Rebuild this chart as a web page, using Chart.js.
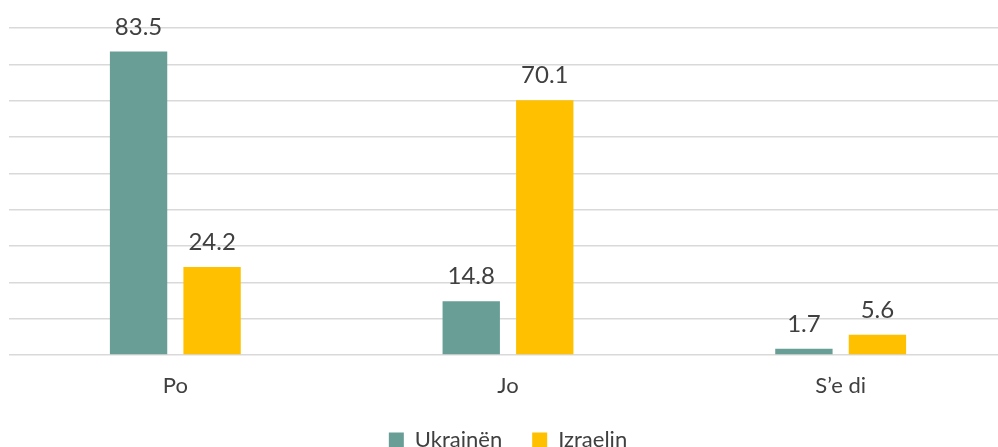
<!DOCTYPE html>
<html>
<head>
<meta charset="utf-8">
<script src="https://cdn.jsdelivr.net/npm/chart.js@4"></script>
<style>
  html, body { margin: 0; padding: 0; background: #fff; overflow: hidden; }
  /* un poco más ancho que la ventana: el área del gráfico sigue fuera del borde derecho */
  #wrap { width: 1007px; height: 447px; }
</style>
</head>
<body>
<div id="wrap"><canvas id="chart"></canvas></div>
<script>
// Datos del gráfico
const categories = ["Po", "Jo", "S\u2019e di"];
const ukraineValues = [83.5, 14.8, 1.7];
const israelValues = [24.2, 70.1, 5.6];
const seriesNames = ["Ukrainën", "Izraelin"];

const FONT = "'Lato', 'Open Sans', sans-serif";
const TEXT = '#404040';

// Etiquetas encima de las barras
const barLabels = {
    id: 'barLabels',
    afterDatasetsDraw(chart) {
        const ctx = chart.ctx;
        ctx.save();
        ctx.font = '24px ' + FONT;
        ctx.fillStyle = TEXT;
        ctx.textAlign = 'center';
        ctx.textBaseline = 'alphabetic';
        chart.data.datasets.forEach((ds, i) => {
            chart.getDatasetMeta(i).data.forEach((bar, j) => {
                ctx.fillText(ds.data[j].toFixed(1), bar.x, bar.y - 17);
            });
        });
        ctx.restore();
    }
};

new Chart(document.getElementById('chart'), {
    type: 'bar',
    data: {
        labels: categories,
        datasets: [
            { label: seriesNames[0], data: ukraineValues, backgroundColor: '#699E97' },
            { label: seriesNames[1], data: israelValues, backgroundColor: '#FFC000' }
        ]
    },
    options: {
        responsive: true,
        maintainAspectRatio: false,
        animation: false,
        // padding inferior negativo: la leyenda queda cortada abajo como en el original
        layout: { padding: { left: 9, right: 0, top: 28, bottom: -14 } },
        datasets: {
            bar: { categoryPercentage: 0.442, barPercentage: 0.78 }
        },
        scales: {
            x: {
                grid: { display: false },
                border: { display: false },
                ticks: { color: TEXT, font: { family: FONT, size: 22 }, padding: 10 },
                afterFit: (s) => { s.height = 44; }
            },
            y: {
                min: 0,
                max: 90,
                ticks: { display: false, stepSize: 10 },
                border: { display: false },
                grid: { color: '#d9d9d9', lineWidth: 1.5, drawTicks: false }
            }
        },
        plugins: {
            legend: {
                position: 'bottom',
                labels: {
                    color: TEXT,
                    font: { family: FONT, size: 22 },
                    boxWidth: 15,
                    boxHeight: 15,
                    padding: 30
                }
            },
            tooltip: { enabled: false }
        }
    },
    plugins: [barLabels]
});
</script>
</body>
</html>
